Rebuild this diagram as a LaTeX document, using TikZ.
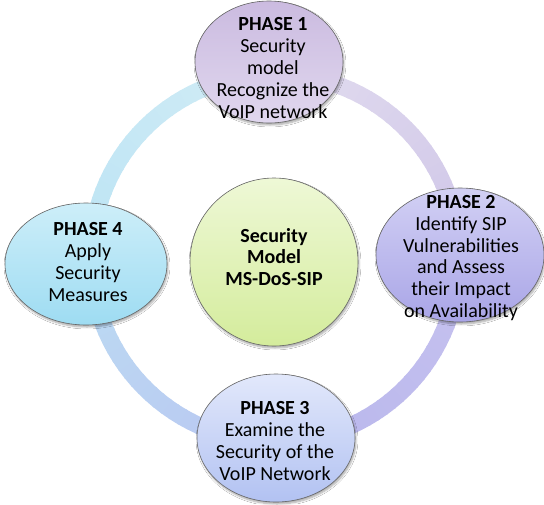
\documentclass[tikz,border=0pt]{standalone}
\usepackage{fontspec}
\setmainfont{Carlito}
\usetikzlibrary{shapes.geometric,shadows.blur}
\definecolor{ringA}{HTML}{E2DCEF}
\definecolor{ringB}{HTML}{CFC6E8}
\definecolor{ringC}{HTML}{C6C2EF}
\definecolor{ringD}{HTML}{B8B6EC}
\definecolor{ringE}{HTML}{B9C6F1}
\definecolor{ringF}{HTML}{BCDCF3}
\definecolor{ringG}{HTML}{BCE4F4}
\definecolor{ringH}{HTML}{D2ECF6}
\definecolor{pOneT}{HTML}{CBBBE0}
\definecolor{pOneB}{HTML}{E0D7EE}
\definecolor{pTwoT}{HTML}{D2D0F4}
\definecolor{pTwoB}{HTML}{A9A5E7}
\definecolor{pThrT}{HTML}{E2E8FB}
\definecolor{pThrB}{HTML}{B2C2F2}
\definecolor{pFouT}{HTML}{CDEEF9}
\definecolor{pFouB}{HTML}{9EDCF2}
\definecolor{cenT}{HTML}{EEF8D6}
\definecolor{cenB}{HTML}{D4EC9C}
\tikzset{
  phasebox/.style={ellipse, draw=black!60, line width=0.6pt, inner sep=0pt,
    blur shadow={shadow xshift=1pt, shadow yshift=-2pt, shadow blur steps=6, shadow opacity=35}},
  lbl/.style={align=center, font=\fontsize{20}{21.8}\selectfont, inner sep=0pt},
}
\begin{document}
\begin{tikzpicture}[x=1pt,y=-1pt]
\useasboundingbox (0,0) rectangle (544,504);
\fill[white] (0,0) rectangle (544,504);
\coordinate (rc) at (275,258);
% ring (angles: 0 right, 90 down, 180 left, 270 up)
\foreach \q/\ca/\cb in {270/ringA/ringB, 0/ringC/ringD, 90/ringE/ringF, 180/ringG/ringH}{
  \foreach \i in {0,...,29}{
    \pgfmathsetmacro{\mix}{100-\i*100/29}
    \pgfmathsetmacro{\st}{\q+\i*3}
    \draw[line width=17pt, color=\ca!\mix!\cb] (rc) ++(\st:184) arc[start angle=\st, end angle=\st+3.6, radius=184];
  }
}
% nodes
\node[phasebox, minimum width=148pt, minimum height=122pt, top color=pOneT, bottom color=pOneB] (p1) at (269,62) {};
\node[phasebox, minimum width=168pt, minimum height=134pt, top color=pTwoT, bottom color=pTwoB] (p2) at (460,255) {};
\node[phasebox, minimum width=158pt, minimum height=128pt, top color=pThrT, bottom color=pThrB] (p3) at (276,438) {};
\node[phasebox, minimum width=162pt, minimum height=122pt, top color=pFouT, bottom color=pFouB] (p4) at (86,264) {};
\node[phasebox, circle, minimum size=168pt, top color=cenT, bottom color=cenB] (c) at (274,262) {};
% labels
\node[lbl] (t1) at (273,68) {\textbf{PHASE 1}\\Security\\model\\Recognize the\\VoIP network};
\node[lbl] (t2) at (461,258) {\textbf{PHASE 2}\\Identify SIP\\Vulnerabilities\\and Assess\\their Impact\\on Availability};
\node[lbl] (t3) at (275,441) {\textbf{PHASE 3}\\Examine the\\Security of the\\VoIP Network};
\node[lbl] (t4) at (88,262) {\textbf{PHASE 4}\\Apply\\Security\\Measures};
\node[lbl, font=\fontsize{20}{21.8}\selectfont\bfseries] (tc) at (274,257) {Security\\Model\\MS-DoS-SIP};
\end{tikzpicture}
\end{document}
